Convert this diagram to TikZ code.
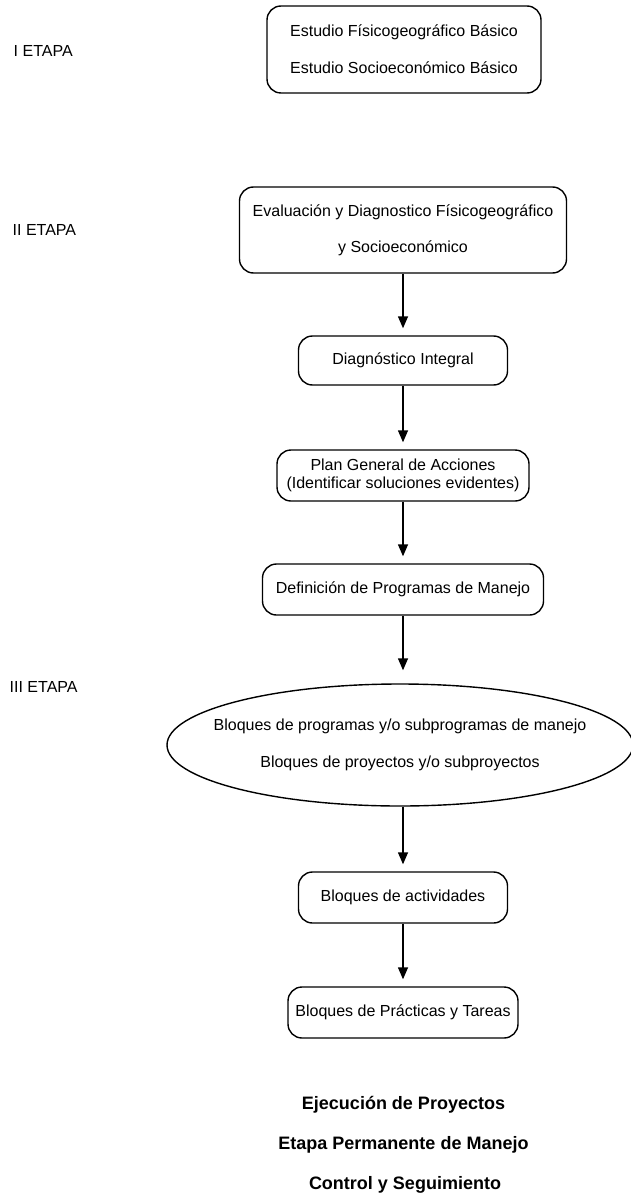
\documentclass[tikz,border=0pt]{standalone}
\usepackage{fontspec}
\setmainfont{Liberation Sans}
\usetikzlibrary{shapes.geometric,arrows.meta}

\begin{document}
\begin{tikzpicture}[x=1pt, y=-1pt,
	>={Triangle[length=12pt, width=10pt]},
	every path/.style={line width=1.4pt},
	every node/.style={font=\fontsize{16}{18}\selectfont},
	etapa/.style={anchor=west, inner sep=0},
	caja/.style={draw, rounded corners=14pt, align=center, inner sep=0},
	flecha/.style={->, shorten >=7pt},
	final/.style={font=\fontsize{18}{20}\selectfont\bfseries, inner sep=0}]
	\useasboundingbox (0,0) rectangle (631,1201);

	% etapas
	\node[etapa] (etapaI) at (13,51) {I ETAPA};
	\node[etapa] (etapaII) at (12,230) {II ETAPA};
	\node[etapa] (etapaIII) at (9,687) {III ETAPA};

	% cajas
	\node[caja, minimum width=274pt, minimum height=87pt] (estudio) at (404,49.5)
		{Estudio Físicogeográfico Básico\\[19pt] Estudio Socioeconómico Básico};
	\node[caja, minimum width=327pt, minimum height=86pt] (evaluacion) at (403,230)
		{Evaluación y Diagnostico Físicogeográfico\\[18pt] y Socioeconómico};
	\node[caja, minimum width=209pt, minimum height=49pt] (diagnostico) at (403,360.5)
		{Diagnóstico Integral};
	\node[caja, minimum width=252pt, minimum height=51pt] (plan) at (403,475.5)
		{Plan General de Acciones\\(Identificar soluciones evidentes)};
	\node[caja, minimum width=281pt, minimum height=51pt] (definicion) at (403,589.5)
		{Definición de Programas de Manejo};
	\node[draw, ellipse, align=center, inner xsep=-30pt, inner ysep=0,
		minimum width=466pt, minimum height=122pt] (bloques) at (400,745)
		{Bloques de programas y/o subprogramas de manejo\\[19pt] Bloques de proyectos y/o subproyectos};
	\node[caja, minimum width=209pt, minimum height=51pt] (actividades) at (403,897.5)
		{Bloques de actividades};
	\node[caja, minimum width=230pt, minimum height=51pt] (practicas) at (403,1012.5)
		{Bloques de Prácticas y Tareas};

	% texto final
	\node[final] (ejecucion) at (403.5,1105) {Ejecución de Proyectos};
	\node[final] (permanente) at (403.5,1145) {Etapa Permanente de Manejo};
	\node[final] (control) at (405,1185) {Control y Seguimiento};

	% flechas
	\draw[flecha] (evaluacion) -- (diagnostico);
	\draw[flecha] (diagnostico) -- (plan);
	\draw[flecha] (plan) -- (definicion);
	\draw[flecha, shorten >=13pt] (definicion.south) -- (definicion.south |- bloques.north);
	\draw[flecha] (bloques.south -| actividades.north) -- (actividades);
	\draw[flecha] (actividades) -- (practicas);

\end{tikzpicture}
\end{document}
